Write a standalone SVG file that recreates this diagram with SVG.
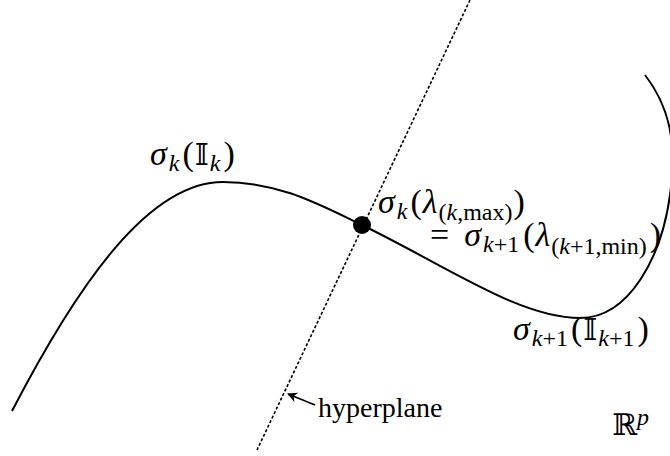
<svg xmlns="http://www.w3.org/2000/svg" width="670" height="456" viewBox="0 0 670 456">
<defs>
<style>
.t{font-family:"Liberation Serif","DejaVu Serif",serif;font-size:34px;fill:#000}
.h{font-size:28px}
.i{font-style:italic}
.s{font-size:24px}
.bb{font-family:"DejaVu Serif","DejaVu Sans",serif;font-style:normal;font-size:30px}
.curve{fill:none;stroke:#000;stroke-width:2}
.plane{fill:none;stroke:#000;stroke-width:1.6;stroke-dasharray:3 2}
.arr{fill:none;stroke:#000;stroke-width:1.6}
</style>
<marker id="ah" viewBox="0 0 10 10" refX="9" refY="5" markerWidth="10" markerHeight="10" markerUnits="userSpaceOnUse" orient="auto">
<path d="M0,0 L10,5 L0,10 L3,5 Z" fill="#000"/>
</marker>
</defs>
<rect width="670" height="456" fill="#fff"/>
<g id="connectors">
<path id="curve" class="curve" d="M12,411 C80,280 150,182 223,182 C280,182 320,205 362,225 C450,268 520,318 580,318 C630,318 662,255 670,195 C675,158 676,115 645,75"/>
<line id="hyperplane-line" class="plane" x1="470" y1="0" x2="257" y2="450"/>
<line id="hyperplane-arrow" class="arr" x1="315" y1="405" x2="288" y2="394" marker-end="url(#ah)"/>
</g>
<g id="junction">
<circle cx="362" cy="225" r="9" fill="#000"/>
</g>
<g id="label-sigma-k">
<text class="t" x="150" y="165"><tspan class="i">σ</tspan><tspan class="s i" dx="2" dy="6">k</tspan><tspan dx="3" dy="-6">(</tspan><tspan class="bb" dx="1">𝕀</tspan><tspan class="s i" dx="1" dy="6">k</tspan><tspan dx="3" dy="-6">)</tspan></text>
</g>
<g id="label-junction">
<text class="t" x="378" y="213"><tspan class="i">σ</tspan><tspan class="s i" dx="2" dy="6">k</tspan><tspan dx="3" dy="-6">(</tspan><tspan class="i" dx="1">λ</tspan><tspan class="s" dx="1" dy="7">(<tspan class="i">k</tspan>,max)</tspan><tspan dx="1" dy="-7">)</tspan></text>
<text class="t" x="430" y="246">=<tspan class="i" dx="15">σ</tspan><tspan class="s" dx="2" dy="6"><tspan class="i">k</tspan>+1</tspan><tspan dx="4" dy="-6">(</tspan><tspan class="i" dx="1">λ</tspan><tspan class="s" dx="1" dy="8">(<tspan class="i">k</tspan>+1,min)</tspan><tspan dx="3" dy="-8">)</tspan></text>
</g>
<g id="label-sigma-k1">
<text class="t" x="513" y="340"><tspan class="i">σ</tspan><tspan class="s" dx="2" dy="6"><tspan class="i">k</tspan>+1</tspan><tspan dx="3" dy="-6">(</tspan><tspan class="bb" dx="1">𝕀</tspan><tspan class="s" dx="1" dy="6"><tspan class="i">k</tspan>+1</tspan><tspan dx="3" dy="-6">)</tspan></text>
</g>
<g id="label-hyperplane">
<text class="t h" x="318" y="417">hyperplane</text>
</g>
<g id="label-space">
<text class="t" x="612" y="435"><tspan class="bb">ℝ</tspan><tspan class="s i" dy="-10">p</tspan></text>
</g>
</svg>
